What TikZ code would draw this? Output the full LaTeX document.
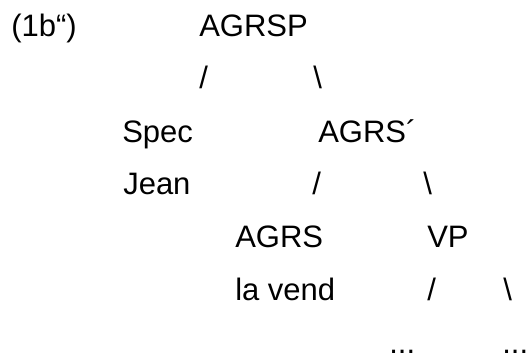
\documentclass[tikz,border=0pt]{standalone}
\usepackage{fontspec}
\setmainfont{Liberation Sans}
\begin{document}
\begin{tikzpicture}[x=0.75pt,y=-0.75pt]
	\tikzstyle{word}=[anchor=base west,inner sep=0pt,font=\fontsize{23.25}{28}\selectfont]
	%\tikzstyle{word}=[anchor=base west,inner sep=0pt,font=\LARGE]
	\tikzstyle{branch}=[word]
	\useasboundingbox (0,0) rectangle (528,358);
	\node[word] (ex) at (11,36) {(1b“)};
	\node[word] (agrsp) at (199,36) {AGRSP};
	\node[branch] (agrsp-l) at (199,88) {/};
	\node[branch] (agrsp-r) at (313,88) {\textbackslash};
	\node[word] (spec) at (122,142) {Spec};
	\node[word] (agrsbar) at (318,142) {AGRS´};
	\node[word] (jean) at (123,194) {Jean};
	\node[branch] (agrsbar-l) at (312,194) {/};
	\node[branch] (agrsbar-r) at (423,194) {\textbackslash};
	\node[word] (agrs) at (235,247) {AGRS};
	\node[word] (vp) at (427,247) {VP};
	\node[word] (lavend) at (235,300) {la vend};
	\node[branch] (vp-l) at (427,300) {/};
	\node[branch] (vp-r) at (503,300) {\textbackslash};
	\node[word] (dots-l) at (389,353) {...};
	\node[word] (dots-r) at (502,353) {...};
\end{tikzpicture}
\end{document}
